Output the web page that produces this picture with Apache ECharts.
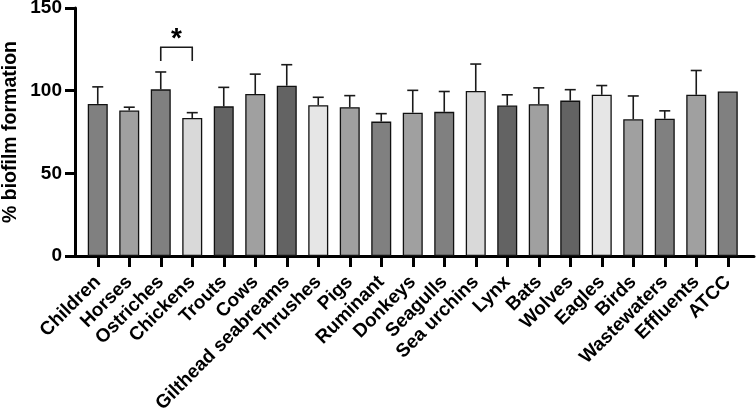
<!DOCTYPE html>
<html>
<head>
<meta charset="utf-8">
<script src="https://cdn.jsdelivr.net/npm/echarts@6/dist/echarts.min.js"></script>
<style>html,body{margin:0;padding:0;background:#fff}#c{width:756px;height:410px}</style>
</head>
<body>
<div id="c"></div>
<script>
const categories = ['Children','Horses','Ostriches','Chickens','Trouts','Cows','Gilthead seabreams','Thrushes','Pigs','Ruminant','Donkeys','Seagulls','Sea urchins','Lynx','Bats','Wolves','Eagles','Birds','Wastewaters','Effluents','ATCC'];
const means = [92, 88, 100.8, 83.5, 90.5, 98, 103, 91.2, 90, 81.3, 86.7, 87.2, 99.8, 91, 91.8, 94, 97.5, 82.7, 83, 97.5, 99.5];
const errors = [10.3, 2, 10.5, 3.2, 11.5, 12, 12.7, 4.8, 7, 4.8, 13.5, 12.3, 16.3, 6.5, 9.9, 6.6, 5.6, 14.1, 4.8, 14.7, 0];
const barColors = ['#808080','#a0a0a0','#808080','#d9d9d9','#636363','#a0a0a0','#636363','#e6e6e6','#a0a0a0','#808080','#a0a0a0','#808080','#d9d9d9','#636363','#a0a0a0','#636363','#e6e6e6','#a0a0a0','#808080','#a0a0a0','#808080'];
const yTicks = {min: 0, max: 150, interval: 50};
// significance bracket: [fromIndex, toIndex, legBottom, bracketTop, starLevel]
const significance = [[2, 3, 118, 126.3, 131]];
const yTitle = '% biofilm formation';

const FONT = '"Liberation Sans", Arial, Helvetica, sans-serif';
const chart = echarts.init(document.getElementById('c'));
chart.setOption({
  animation: false,
  backgroundColor: '#fff',
  grid: [
    {left: 82, width: 661.5, top: 8, bottom: 154, outerBoundsMode: 'none', containLabel: false},
    {left: 75, right: 2, top: 8, bottom: 154, outerBoundsMode: 'none', containLabel: false}
  ],
  xAxis: [
    {
      type: 'category', gridIndex: 0, data: categories,
      axisLine: {show: false},
      axisTick: {show: true, alignWithLabel: true, length: 11, lineStyle: {color: '#000', width: 3}},
      axisLabel: {rotate: 45, interval: 0, margin: 23, color: '#000', fontFamily: FONT, fontWeight: 'bold', fontSize: 19, verticalAlign: 'middle', hideOverlap: false}
    },
    {
      type: 'value', gridIndex: 1, min: 0, max: 1,
      axisLine: {show: true, lineStyle: {color: '#000', width: 3}},
      axisTick: {show: false}, axisLabel: {show: false}, splitLine: {show: false}
    }
  ],
  yAxis: [
    {type: 'value', gridIndex: 0, show: false, min: yTicks.min, max: yTicks.max, interval: yTicks.interval},
    {
      type: 'value', gridIndex: 1, min: yTicks.min, max: yTicks.max, interval: yTicks.interval,
      name: yTitle, nameLocation: 'middle', nameGap: 54, nameRotate: 90, nameMoveOverlap: false,
      nameTextStyle: {color: '#000', fontFamily: FONT, fontWeight: 'bold', fontSize: 19.5},
      axisLine: {show: true, lineStyle: {color: '#000', width: 3}},
      axisTick: {show: true, length: 10, lineStyle: {color: '#000', width: 3}},
      axisLabel: {margin: 13, color: '#000', fontFamily: FONT, fontWeight: 'bold', fontSize: 19},
      splitLine: {show: false}
    }
  ],
  series: [
    {
      type: 'bar', xAxisIndex: 0, yAxisIndex: 0, barWidth: 20,
      data: means.map((v, i) => ({value: v, itemStyle: {color: barColors[i]}})),
      itemStyle: {borderColor: '#111', borderWidth: 1.3}
    },
    {
      type: 'custom', xAxisIndex: 0, yAxisIndex: 0, z: 5,
      data: means.map((v, i) => [i, v, errors[i]]),
      renderItem: function (params, api) {
        const x = api.value(0), v = api.value(1), e = api.value(2);
        if (!e) return null;
        const p0 = api.coord([x, v]);
        const p1 = api.coord([x, v + e]);
        const st = {stroke: '#1a1a1a', lineWidth: 1.6};
        return {type: 'group', children: [
          {type: 'line', shape: {x1: p0[0], y1: p0[1], x2: p1[0], y2: p1[1]}, style: st},
          {type: 'line', shape: {x1: p1[0] - 5.5, y1: p1[1], x2: p1[0] + 5.5, y2: p1[1]}, style: st}
        ]};
      }
    },
    {
      type: 'custom', xAxisIndex: 0, yAxisIndex: 0, z: 6,
      data: significance,
      renderItem: function (params, api) {
        const a = api.value(0), b = api.value(1);
        const lo = api.value(2), hi = api.value(3), star = api.value(4);
        const pa = api.coord([a, lo]), pat = api.coord([a, hi]);
        const pb = api.coord([b, lo]), pbt = api.coord([b, hi]);
        const ps = api.coord([a, star]);
        const xm = (pa[0] + pb[0]) / 2;
        return {type: 'group', children: [
          {type: 'polyline', shape: {points: [pa, pat, pbt, pb]}, style: {stroke: '#1a1a1a', lineWidth: 1.6, fill: null}},
          {type: 'text', x: xm, y: ps[1], style: {text: '*', font: 'bold 28px ' + FONT, fill: '#000', align: 'center', verticalAlign: 'middle'}}
        ]};
      }
    }
  ]
});
</script>
</body>
</html>
